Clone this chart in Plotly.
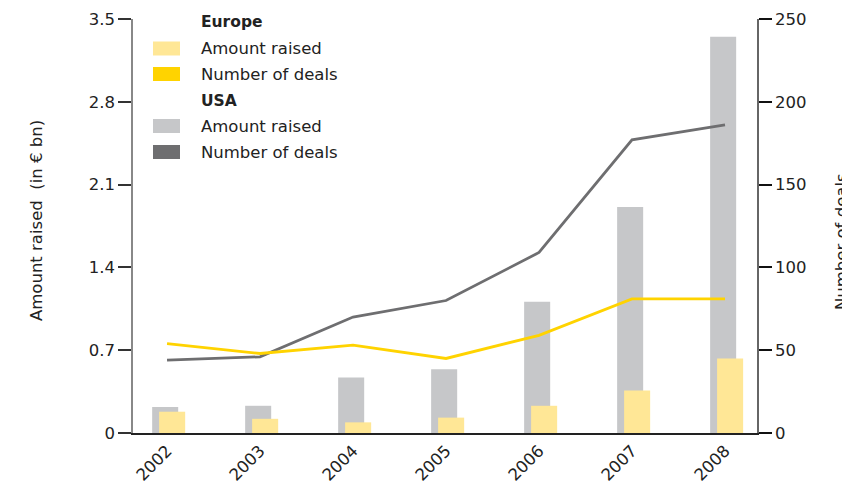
import plotly.graph_objects as go

years = ["2002", "2003", "2004", "2005", "2006", "2007", "2008"]
usa_amount = [0.22, 0.23, 0.47, 0.54, 1.11, 1.91, 3.35]
europe_amount = [0.18, 0.12, 0.09, 0.13, 0.23, 0.36, 0.63]
usa_deals = [44, 46, 70, 80, 109, 177, 186]
europe_deals = [54, 48, 53, 45, 59, 81, 81]

C_EU_AMT = "#FFE796"
C_EU_DEALS = "#FFD300"
C_US_AMT = "#C6C7C9"
C_US_DEALS = "#6E6E70"
FONT = "DejaVu Sans"
TXT = "#222222"

# page body has an 8px default margin; figure offset accordingly
OFF = 8
W, H = 850, 488 - OFF
PLOT_L, PLOT_R, PLOT_T, PLOT_B = 133, 757, 19, 433   # plot area in window pixels
L, T = PLOT_L - OFF, PLOT_T - OFF
R, B = W - (PLOT_R - OFF), H - (PLOT_B - OFF)
PW, PH = PLOT_R - PLOT_L, PLOT_B - PLOT_T


def px(x):
    return (x - PLOT_L) / PW


def py(y):
    return (PLOT_B - y) / PH


fig = go.Figure()
fig.add_trace(go.Bar(x=years, y=usa_amount, marker_color=C_US_AMT, marker_line_width=0,
                     offset=-0.16, width=0.28, name="USA Amount raised", showlegend=False))
fig.add_trace(go.Bar(x=years, y=europe_amount, marker_color=C_EU_AMT, marker_line_width=0,
                     offset=-0.085, width=0.28, name="Europe Amount raised", showlegend=False))
fig.add_trace(go.Scatter(x=years, y=usa_deals, mode="lines", yaxis="y2",
                         line=dict(color=C_US_DEALS, width=2.8), name="USA Number of deals",
                         showlegend=False))
fig.add_trace(go.Scatter(x=years, y=europe_deals, mode="lines", yaxis="y2",
                         line=dict(color=C_EU_DEALS, width=2.8), name="Europe Number of deals",
                         showlegend=False))

# manual legend
legend_rows = [
    ("Europe", None, 21.5, True),
    ("Amount raised", C_EU_AMT, 48.5, False),
    ("Number of deals", C_EU_DEALS, 74, False),
    ("USA", None, 100.5, True),
    ("Amount raised", C_US_AMT, 126, False),
    ("Number of deals", C_US_DEALS, 152, False),
]
shapes = []
annotations = []
for text, color, yc, bold in legend_rows:
    if color:
        shapes.append(dict(type="rect", xref="paper", yref="paper",
                           x0=px(153), x1=px(180), y0=py(yc + 7), y1=py(yc - 7),
                           fillcolor=color, line=dict(width=0)))
    annotations.append(dict(xref="paper", yref="paper", x=px(199), y=py(yc),
                            xanchor="left", yanchor="middle", showarrow=False,
                            text=f"<b>{text}</b>" if bold else text,
                            font=dict(family=FONT, size=16.5 if not bold else 15.5, color=TXT)))

annotations.append(dict(xref="paper", yref="paper", x=px(37), y=py(221), textangle=-90,
                        xanchor="center", yanchor="middle", showarrow=False,
                        text="Amount raised\u00a0 (in € bn)",
                        font=dict(family=FONT, size=16.5, color=TXT)))
annotations.append(dict(xref="paper", yref="paper", x=px(842), y=py(242), textangle=-90,
                        xanchor="center", yanchor="middle", showarrow=False,
                        text="Number of deals",
                        font=dict(family=FONT, size=16.5, color=TXT)))

fig.update_layout(
    width=W, height=H,
    margin=dict(l=L, r=R, t=T, b=B, pad=0, autoexpand=False),
    paper_bgcolor="white", plot_bgcolor="white",
    barmode="overlay",
    showlegend=False,
    font=dict(family=FONT, size=16.5, color=TXT),
    shapes=shapes,
    annotations=annotations,
    xaxis=dict(type="category", range=[-0.366, 6.344], showgrid=False, zeroline=False,
               showline=True, linecolor="#222", linewidth=1.5, ticks="",
               tickangle=-45, automargin=False,
               tickfont=dict(family=FONT, size=16.5, color=TXT)),
    yaxis=dict(range=[0, 3.5], tickvals=[0, 0.7, 1.4, 2.1, 2.8, 3.5],
               ticktext=["0", "0.7", "1.4", "2.1", "2.8", "3.5"], automargin=False,
               showgrid=False, zeroline=False, showline=True, linecolor="#888",
               linewidth=1.5, ticks="outside", ticklen=13, tickwidth=1.5, tickcolor="#333",
               tickfont=dict(family=FONT, size=16.5, color=TXT)),
    yaxis2=dict(range=[0, 250], tickvals=[0, 50, 100, 150, 200, 250], overlaying="y",
                side="right", showgrid=False, zeroline=False, showline=True, automargin=False,
                linecolor="#666", linewidth=1.5, ticks="outside", ticklen=13,
                tickwidth=1.5, tickcolor="#111",
                tickfont=dict(family=FONT, size=16.5, color=TXT)),
)

fig.write_html("out.html")
